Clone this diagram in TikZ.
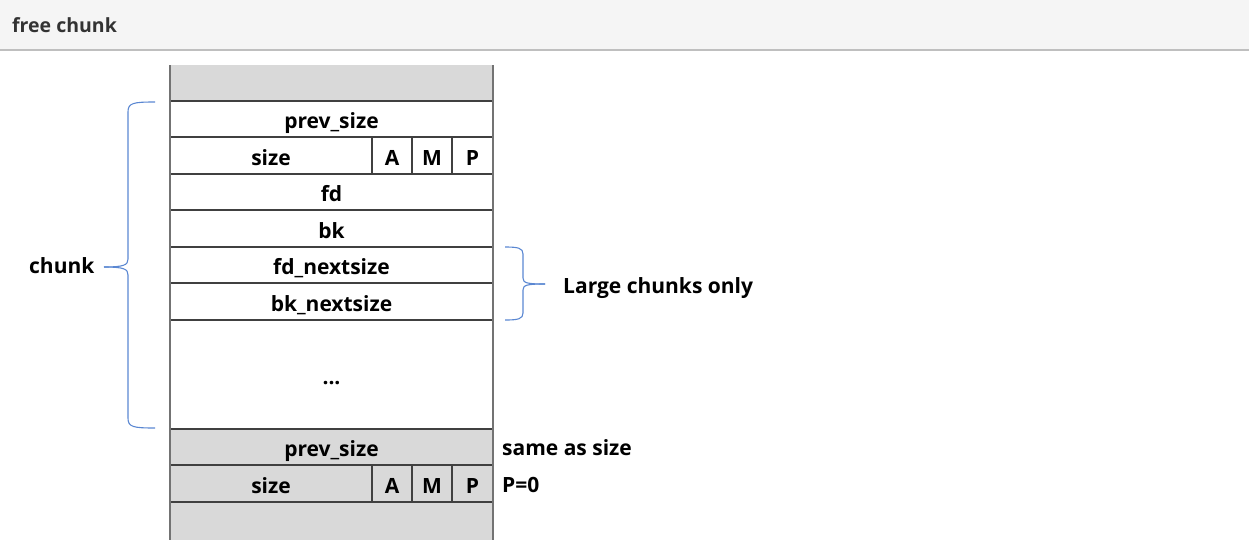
\documentclass[tikz,border=0pt]{standalone}
\usepackage{fontspec}
\setmainfont{Open Sans}
\begin{document}
\begin{tikzpicture}[x=1pt,y=-1pt,
  cell/.style={draw=black!75, line width=1.1pt, rectangle, inner sep=0pt, outer sep=0pt, anchor=north west, text height=19pt, text depth=0pt, font=\fontsize{21}{24}\selectfont\bfseries},
  grey/.style={fill=black!15},
  blk/.style={rectangle, inner sep=0pt, outer sep=0pt, anchor=north west, fill=black!15},
  lbl/.style={inner sep=0pt, anchor=base west, font=\fontsize{21}{24}\selectfont\bfseries},
  brace/.style={line width=1.1pt, color={rgb,255:red,90;green,135;blue,210}}
]
\useasboundingbox (0,0) rectangle (1249,546);
\fill[black!4] (0,0) rectangle (1249,50);
\draw[black!25, line width=1.2pt] (0,50) -- (1249,50);
\node[anchor=base west, inner sep=0pt, text=black!80, font=\fontsize{19.5}{22}\selectfont\bfseries] (title) at (12,32) {free chunk};
% blocks without top/bottom line
\node[blk, minimum width=323pt, minimum height=36pt] (top) at (170,65) {};
\node[blk, minimum width=323pt, minimum height=38pt] (bot) at (170,502) {};
% cells
\node[cell, minimum width=323pt, minimum height=36pt] (prev) at (170,101) {prev\_size};
\node[cell, minimum width=202pt, minimum height=37pt] (size) at (170,137) {size};
\node[cell, minimum width=40pt, minimum height=37pt] (A) at (372,137) {A};
\node[cell, minimum width=40pt, minimum height=37pt] (M) at (412,137) {M};
\node[cell, minimum width=41pt, minimum height=37pt] (P) at (452,137) {P};
\node[cell, minimum width=323pt, minimum height=36pt] (fd) at (170,174) {fd};
\node[cell, minimum width=323pt, minimum height=37pt] (bk) at (170,210) {bk};
\node[cell, minimum width=323pt, minimum height=36pt] (fdn) at (170,247) {fd\_nextsize};
\node[cell, minimum width=323pt, minimum height=37pt] (bkn) at (170,283) {bk\_nextsize};
\node[cell, minimum width=323pt, minimum height=109pt] (dots) at (170,320) {...};
\node[cell, grey, minimum width=323pt, minimum height=36pt] (prev2) at (170,429) {prev\_size};
\node[cell, grey, minimum width=202pt, minimum height=37pt] (size2) at (170,465) {size};
\node[cell, grey, minimum width=40pt, minimum height=37pt] (A2) at (372,465) {A};
\node[cell, grey, minimum width=40pt, minimum height=37pt] (M2) at (412,465) {M};
\node[cell, grey, minimum width=41pt, minimum height=37pt] (P2) at (452,465) {P};
% side lines
\draw[black!55, line width=1.6pt] (top.north west) -- (bot.south west);
\draw[black!55, line width=1.6pt] (top.north east) -- (bot.south east);
% labels
\node[lbl] (chunk) at (29,273) {chunk};
\node[lbl] (large) at (563,293) {Large chunks only};
\node[lbl] (same) at (502,455) {same as size};
\node[lbl] (pz) at (502,492) {P=0};
% left brace
\coordinate (lt) at (155,102);
\coordinate (lb) at (155,428);
\coordinate (ltip) at (104,267);
\draw[brace] (lt) .. controls (133,102) and (128,103) .. (128,112) -- (128,259) .. controls (128,265) and (124,267) .. (ltip);
\draw[brace] (ltip) .. controls (124,267) and (128,269) .. (128,275) -- (128,418) .. controls (128,427) and (133,428) .. (lb);
% right brace
\coordinate (rt) at (505,247);
\coordinate (rb) at (505,320);
\coordinate (rtip) at (545,284);
\draw[brace] (rt) .. controls (518,247) and (523,248) .. (523,254) -- (523,278) .. controls (523,283) and (527,284) .. (rtip);
\draw[brace] (rtip) .. controls (527,284) and (523,285) .. (523,290) -- (523,313) .. controls (523,319) and (518,320) .. (rb);
\end{tikzpicture}
\end{document}
